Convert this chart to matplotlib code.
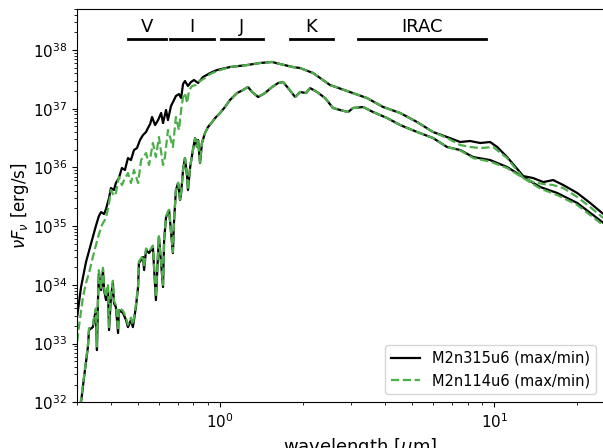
import numpy as np
import matplotlib
matplotlib.use('Agg')
import matplotlib.pyplot as plt

# SEDs: log10(wavelength / um) and log10(nu F_nu / erg s^-1)
# M2n315u6, maximum
max315_logwl = [-0.522, -0.507, -0.489, -0.471, -0.453, -0.442, -0.434, -0.423, -0.416, -0.405,
                -0.398, -0.387, -0.380, -0.369, -0.358, -0.347, -0.336, -0.325, -0.314, -0.303,
                -0.292, -0.281, -0.270, -0.263, -0.255, -0.248, -0.237, -0.226, -0.215, -0.208,
                -0.197, -0.190, -0.179, -0.168, -0.161, -0.150, -0.142, -0.135, -0.128, -0.117,
                -0.106, -0.095, -0.080, -0.062, -0.036, -0.011, 0.036, 0.099, 0.146, 0.190,
                0.219, 0.266, 0.292, 0.339, 0.365, 0.401, 0.474, 0.536, 0.595, 0.657,
                0.719, 0.777, 0.828, 0.876, 0.912, 0.949, 0.985, 1.011, 1.047, 1.106,
                1.142, 1.179, 1.215, 1.252, 1.303, 1.350, 1.394, 1.423]
max315_loglum = [33.434, 33.963, 34.388, 34.695, 35.002, 35.172, 35.240, 35.206, 35.291, 35.479,
                 35.649, 35.615, 35.734, 35.819, 35.990, 35.956, 36.160, 36.126, 36.296, 36.330,
                 36.467, 36.552, 36.603, 36.671, 36.739, 36.859, 36.722, 36.807, 36.927, 36.756,
                 36.978, 36.807, 37.046, 37.148, 37.216, 37.250, 37.182, 37.421, 37.472, 37.387,
                 37.455, 37.489, 37.438, 37.540, 37.608, 37.659, 37.710, 37.744, 37.779, 37.796,
                 37.761, 37.710, 37.693, 37.608, 37.523, 37.404, 37.284, 37.182, 37.029, 36.927,
                 36.773, 36.603, 36.518, 36.433, 36.450, 36.416, 36.433, 36.348, 36.177, 35.853,
                 35.819, 35.751, 35.785, 35.700, 35.564, 35.394, 35.223, 35.121]

# M2n315u6, minimum
min315_logwl = [-0.507, -0.496, -0.482, -0.478, -0.464, -0.460, -0.453, -0.449, -0.445, -0.442,
                -0.434, -0.427, -0.423, -0.416, -0.409, -0.405, -0.398, -0.391, -0.387, -0.380,
                -0.372, -0.369, -0.354, -0.343, -0.336, -0.325, -0.318, -0.314, -0.307, -0.299,
                -0.296, -0.281, -0.277, -0.270, -0.259, -0.245, -0.234, -0.226, -0.223, -0.208,
                -0.204, -0.197, -0.186, -0.172, -0.168, -0.161, -0.153, -0.146, -0.142, -0.135,
                -0.128, -0.120, -0.117, -0.109, -0.099, -0.091, -0.084, -0.080, -0.073, -0.066,
                -0.055, -0.044, -0.029, -0.018, 0.000, 0.018, 0.036, 0.062, 0.084, 0.102,
                0.117, 0.139, 0.164, 0.190, 0.212, 0.230, 0.248, 0.274, 0.292, 0.314,
                0.328, 0.354, 0.383, 0.412, 0.438, 0.467, 0.485, 0.522, 0.558, 0.609,
                0.657, 0.719, 0.777, 0.828, 0.876, 0.923, 0.985, 1.047, 1.106, 1.168,
                1.230, 1.303, 1.394, 1.423]
min315_loglum = [32.003, 32.429, 32.940, 33.230, 33.281, 33.400, 33.571, 32.889, 33.792, 34.201,
                 33.911, 34.252, 33.911, 33.741, 33.963, 33.230, 33.792, 34.031, 33.690, 33.622,
                 33.179, 33.571, 33.520, 33.400, 33.281, 33.400, 33.281, 33.400, 33.622, 33.963,
                 34.371, 34.474, 34.252, 34.593, 34.542, 34.644, 33.741, 34.542, 34.814, 33.963,
                 34.763, 35.155, 35.274, 34.542, 35.070, 35.615, 35.734, 35.445, 35.564, 35.956,
                 36.160, 35.836, 35.615, 36.007, 36.296, 36.501, 36.348, 36.467, 36.075, 36.416,
                 36.586, 36.688, 36.773, 36.842, 36.927, 37.029, 37.148, 37.267, 37.319, 37.370,
                 37.284, 37.199, 37.267, 37.370, 37.438, 37.455, 37.353, 37.199, 37.284, 37.267,
                 37.353, 37.284, 37.182, 37.012, 36.978, 36.944, 37.012, 37.029, 36.944, 36.842,
                 36.722, 36.603, 36.501, 36.348, 36.296, 36.177, 36.126, 36.007, 35.836, 35.666,
                 35.564, 35.394, 35.070, 34.968]

# M2n114u6, maximum
max114_logwl = [-0.526, -0.515, -0.500, -0.489, -0.478, -0.464, -0.445, -0.431, -0.416, -0.405,
                -0.398, -0.387, -0.380, -0.369, -0.358, -0.350, -0.336, -0.325, -0.314, -0.299,
                -0.288, -0.270, -0.259, -0.245, -0.234, -0.223, -0.208, -0.201, -0.190, -0.172,
                -0.161, -0.150, -0.142, -0.135, -0.128, -0.120, -0.113, -0.102, -0.088, -0.073,
                -0.055, -0.036, -0.011, 0.036, 0.099, 0.146, 0.190, 0.219, 0.266, 0.292,
                0.339, 0.365, 0.401, 0.474, 0.536, 0.595, 0.657, 0.719, 0.777, 0.828,
                0.876, 0.912, 0.949, 0.996, 1.047, 1.106, 1.142, 1.179, 1.215, 1.252,
                1.303, 1.350, 1.394, 1.423]
max114_loglum = [32.838, 33.281, 33.792, 34.031, 34.201, 34.474, 34.814, 35.019, 35.138, 35.394,
                 35.615, 35.513, 35.564, 35.836, 35.700, 35.785, 35.905, 35.734, 35.956, 35.734,
                 36.126, 36.245, 36.041, 36.416, 36.177, 36.518, 36.041, 36.177, 36.637, 36.348,
                 36.859, 36.637, 36.978, 37.199, 37.267, 37.097, 37.319, 37.387, 37.404, 37.472,
                 37.523, 37.591, 37.642, 37.710, 37.744, 37.779, 37.796, 37.761, 37.710, 37.693,
                 37.608, 37.523, 37.404, 37.284, 37.182, 37.029, 36.927, 36.773, 36.603, 36.501,
                 36.382, 36.348, 36.330, 36.348, 36.160, 35.819, 35.751, 35.717, 35.700, 35.649,
                 35.496, 35.325, 35.155, 35.070]

# M2n114u6, minimum
min114_logwl = [-0.510, -0.496, -0.482, -0.478, -0.464, -0.460, -0.453, -0.449, -0.445, -0.442,
                -0.434, -0.427, -0.423, -0.416, -0.409, -0.405, -0.398, -0.391, -0.387, -0.380,
                -0.372, -0.369, -0.354, -0.343, -0.336, -0.325, -0.318, -0.314, -0.307, -0.299,
                -0.296, -0.281, -0.277, -0.270, -0.259, -0.245, -0.234, -0.226, -0.223, -0.208,
                -0.204, -0.197, -0.186, -0.172, -0.168, -0.161, -0.153, -0.146, -0.142, -0.135,
                -0.128, -0.120, -0.117, -0.109, -0.099, -0.091, -0.084, -0.080, -0.073, -0.066,
                -0.055, -0.044, -0.029, -0.018, 0.000, 0.018, 0.036, 0.062, 0.084, 0.102,
                0.117, 0.139, 0.164, 0.190, 0.212, 0.230, 0.248, 0.274, 0.292, 0.314,
                0.328, 0.354, 0.383, 0.412, 0.438, 0.467, 0.485, 0.522, 0.558, 0.609,
                0.657, 0.719, 0.777, 0.828, 0.876, 0.923, 0.985, 1.047, 1.106, 1.168,
                1.230, 1.303, 1.394, 1.423]
min114_loglum = [31.950, 32.450, 32.980, 33.260, 33.320, 33.440, 33.600, 32.950, 33.840, 34.250,
                 33.950, 34.290, 33.950, 33.790, 34.010, 33.280, 33.840, 34.070, 33.730, 33.660,
                 33.220, 33.610, 33.560, 33.440, 33.320, 33.440, 33.320, 33.440, 33.660, 34.000,
                 34.400, 34.500, 34.290, 34.620, 34.570, 34.670, 33.790, 34.570, 34.830, 34.000,
                 34.780, 35.170, 35.280, 34.560, 35.080, 35.620, 35.740, 35.450, 35.570, 35.960,
                 36.160, 35.840, 35.620, 36.010, 36.300, 36.500, 36.350, 36.470, 36.080, 36.420,
                 36.586, 36.688, 36.773, 36.842, 36.927, 37.029, 37.148, 37.267, 37.319, 37.370,
                 37.284, 37.199, 37.267, 37.370, 37.438, 37.455, 37.353, 37.199, 37.284, 37.267,
                 37.353, 37.284, 37.182, 37.012, 36.978, 36.944, 37.012, 37.029, 36.944, 36.842,
                 36.722, 36.603, 36.501, 36.348, 36.290, 36.160, 36.100, 35.990, 35.820, 35.640,
                 35.530, 35.360, 35.030, 34.930]

# photometric bands: name, start and end wavelength (um)
band_names = ['V', 'I', 'J', 'K', 'IRAC']
band_lo = [0.461, 0.657, 1.008, 1.80, 3.19]
band_hi = [0.635, 0.951, 1.435, 2.58, 9.35]

green = '#4daf4a'

fig = plt.figure(figsize=(6.03, 4.48), dpi=100)
ax = fig.add_axes([0.1272, 0.102, 0.878, 0.878])

ax.plot(10**np.array(max315_logwl), 10**np.array(max315_loglum), color='k', lw=1.6,
        label='M2n315u6 (max/min)')
ax.plot(10**np.array(min315_logwl), 10**np.array(min315_loglum), color='k', lw=1.6)
ax.plot(10**np.array(max114_logwl), 10**np.array(max114_loglum), color=green, lw=1.6,
        ls='--', label='M2n114u6 (max/min)')
ax.plot(10**np.array(min114_logwl), 10**np.array(min114_loglum), color=green, lw=1.6, ls='--')

ax.set_xscale('log')
ax.set_yscale('log')
ax.set_xlim(0.3, 25.6)
ax.set_ylim(1e32, 5e38)

# band markers
for name, lo, hi in zip(band_names, band_lo, band_hi):
    ax.plot([lo, hi], [1.54e38, 1.54e38], color='k', lw=2)
    ax.text(np.sqrt(lo * hi), 1.75e38, name, ha='center', va='bottom', fontsize=13)

ax.tick_params(labelsize=11)
ax.set_xlabel(r'wavelength [$\mu$m]', fontsize=13)
ax.xaxis.set_label_coords(0.535, -0.086)
ax.set_ylabel(r'$\nu F_\nu$ [erg/s]', fontsize=12, labelpad=1)

ax.legend(loc='lower right', bbox_to_anchor=(596 / 603, 54 / 448),
          bbox_transform=fig.transFigure, borderaxespad=0, fontsize=10.5)

fig.savefig('out.png', dpi=100)
